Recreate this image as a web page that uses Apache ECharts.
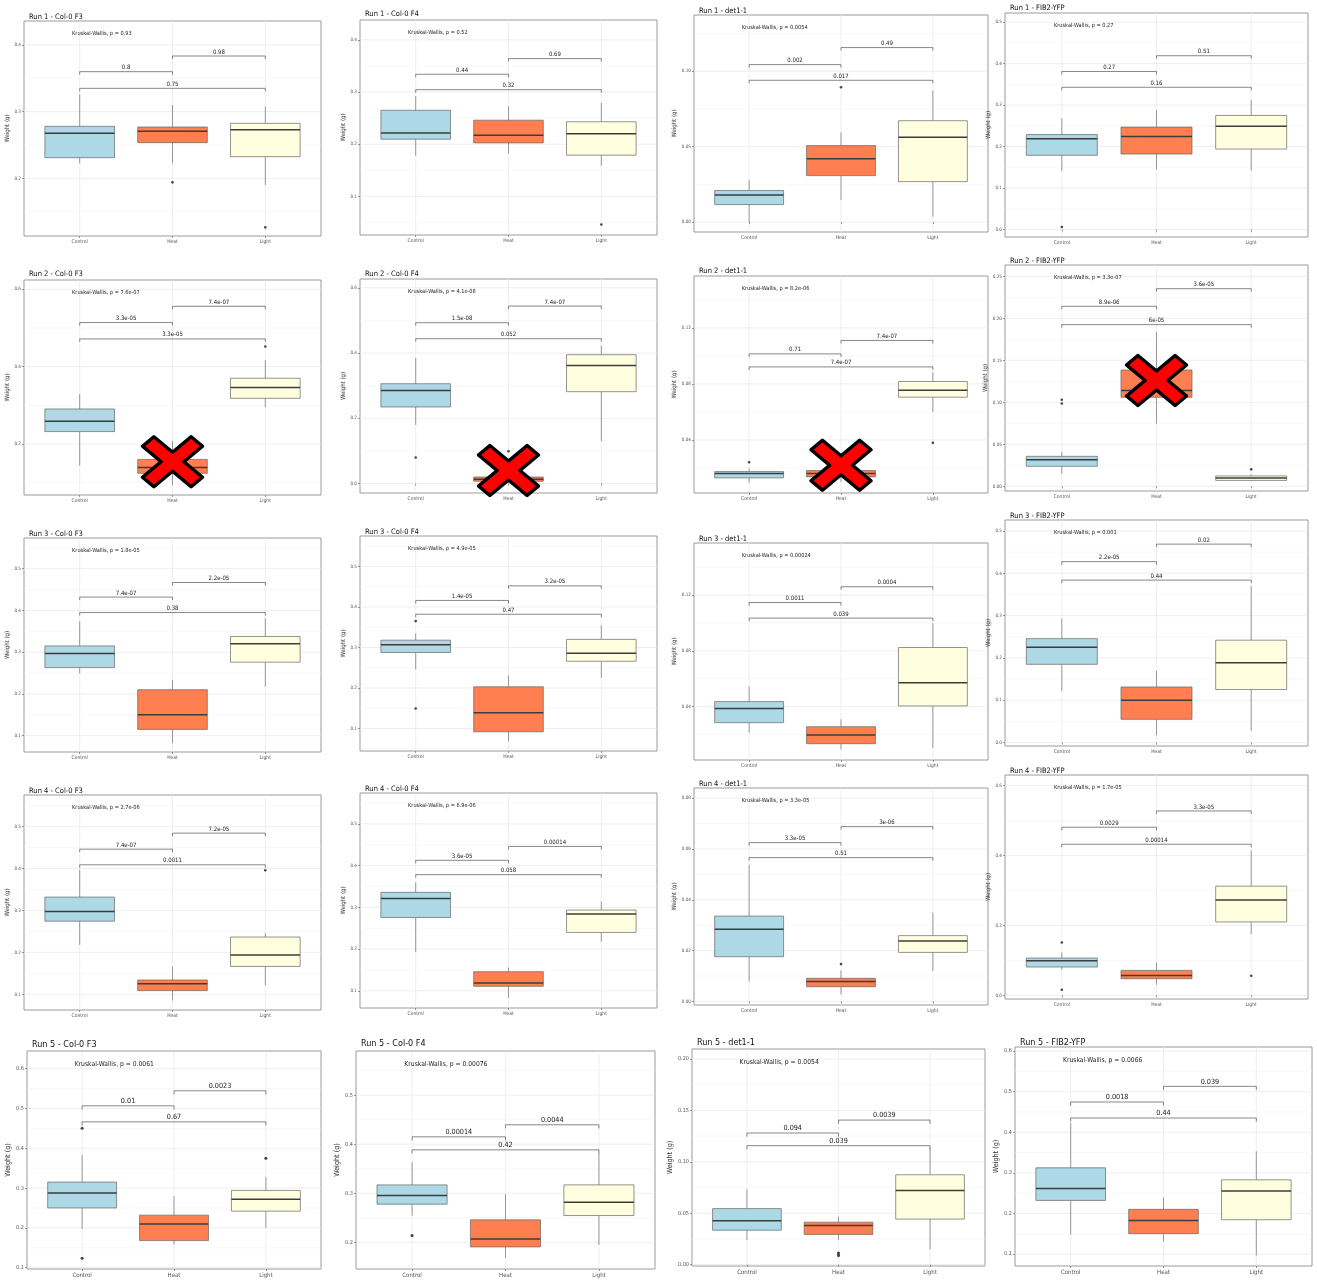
<!DOCTYPE html>
<html><head><meta charset="utf-8">
<script src="https://cdn.jsdelivr.net/npm/echarts@6/dist/echarts.min.js"></script>
<style>html,body{margin:0;padding:0;background:#fff}#c{width:1317px;height:1281px}</style>
</head><body><div id="c"></div><script>
const categories = ['Control', 'Heat', 'Light'];
const panelTitles = [
  'Run 1 - Col-0 F3', 'Run 1 - Col-0 F4', 'Run 1 - det1-1', 'Run 1 - FIB2-YFP',
  'Run 2 - Col-0 F3', 'Run 2 - Col-0 F4', 'Run 2 - det1-1', 'Run 2 - FIB2-YFP',
  'Run 3 - Col-0 F3', 'Run 3 - Col-0 F4', 'Run 3 - det1-1', 'Run 3 - FIB2-YFP',
  'Run 4 - Col-0 F3', 'Run 4 - Col-0 F4', 'Run 4 - det1-1', 'Run 4 - FIB2-YFP',
  'Run 5 - Col-0 F3', 'Run 5 - Col-0 F4', 'Run 5 - det1-1', 'Run 5 - FIB2-YFP'
];
const kruskalP = ['0.93', '0.52', '0.0054', '0.27', '7.6e-07', '4.1e-08', '8.2e-06', '3.3e-07',
  '1.8e-05', '4.9e-05', '0.00024', '0.001', '2.7e-06', '6.9e-06', '3.3e-05', '1.7e-05',
  '0.0061', '0.00076', '0.0054', '0.0066'];
const yRanges = [
  [0.1135, 0.436], [0.026, 0.438], [-0.0066, 0.1373], [-0.018, 0.522],
  [0.068, 0.624], [-0.029, 0.627], [0.0021, 0.157], [-0.0056, 0.2635],
  [0.0608, 0.5736], [0.0446, 0.575], [0.0017, 0.1574], [-0.008, 0.526],
  [0.0626, 0.5755], [0.059, 0.574], [-0.0014, 0.084], [-0.0105, 0.6305],
  [0.0966, 0.6445], [0.1455, 0.59], [-0.0013, 0.2097], [0.0704, 0.61]
];
const yTickLabels = [
  ['0.2', '0.3', '0.4'], ['0.1', '0.2', '0.3', '0.4'], ['0.00', '0.05', '0.10'], ['0.0', '0.1', '0.2', '0.3', '0.4', '0.5'],
  ['0.2', '0.4', '0.6'], ['0.0', '0.2', '0.4', '0.6'], ['0.04', '0.08', '0.12'], ['0.00', '0.05', '0.10', '0.15', '0.20', '0.25'],
  ['0.1', '0.2', '0.3', '0.4', '0.5'], ['0.1', '0.2', '0.3', '0.4', '0.5'], ['0.04', '0.08', '0.12'], ['0.0', '0.1', '0.2', '0.3', '0.4', '0.5'],
  ['0.1', '0.2', '0.3', '0.4', '0.5'], ['0.1', '0.2', '0.3', '0.4', '0.5'], ['0.00', '0.02', '0.04', '0.06', '0.08'], ['0.0', '0.2', '0.4', '0.6'],
  ['0.1', '0.2', '0.3', '0.4', '0.5', '0.6'], ['0.2', '0.3', '0.4', '0.5'], ['0.00', '0.05', '0.10', '0.15', '0.20'], ['0.1', '0.2', '0.3', '0.4', '0.5', '0.6']
];
// [lower whisker, Q1, median, Q3, upper whisker]
const boxControl = [
  [0.2225, 0.231, 0.2675, 0.278, 0.326], [0.178, 0.2096, 0.2217, 0.265, 0.292], [0.0, 0.0116, 0.018, 0.0209, 0.0279], [0.141, 0.179, 0.219, 0.229, 0.268],
  [0.144, 0.232, 0.2586, 0.2905, 0.329], [0.18, 0.2347, 0.285, 0.306, 0.384], [0.0095, 0.0129, 0.016, 0.0174, 0.0195], [0.015, 0.0238, 0.0317, 0.0357, 0.041],
  [0.249, 0.263, 0.297, 0.315, 0.374], [0.246, 0.2876, 0.307, 0.318, 0.3346], [0.0213, 0.0285, 0.0386, 0.0436, 0.0544], [0.122, 0.185, 0.2252, 0.2457, 0.293],
  [0.218, 0.2745, 0.2976, 0.332, 0.397], [0.193, 0.2758, 0.321, 0.336, 0.36], [0.0078, 0.0176, 0.0284, 0.0336, 0.0538], [0.0733, 0.081, 0.099, 0.1067, 0.123],
  [0.1975, 0.25, 0.2874, 0.315, 0.383], [0.2545, 0.2777, 0.2952, 0.317, 0.3634], [0.024, 0.0335, 0.0426, 0.0545, 0.073], [0.148, 0.232, 0.2614, 0.3123, 0.423]
];
const boxHeat = [
  [0.2225, 0.2535, 0.2705, 0.277, 0.31], [0.182, 0.2025, 0.217, 0.246, 0.273], [0.0147, 0.0308, 0.042, 0.0507, 0.0595], [0.145, 0.182, 0.224, 0.247, 0.288],
  [0.094, 0.124, 0.139, 0.16, 0.208], [0.002, 0.007, 0.013, 0.02, 0.03], [0.01, 0.0136, 0.016, 0.0181, 0.021], [0.0746, 0.106, 0.114, 0.1385, 0.184],
  [0.0816, 0.115, 0.15, 0.21, 0.2336], [0.068, 0.092, 0.139, 0.203, 0.231], [0.0093, 0.0134, 0.0196, 0.0256, 0.0309], [0.0173, 0.055, 0.1, 0.1315, 0.169],
  [0.085, 0.1088, 0.1255, 0.1342, 0.166], [0.083, 0.111, 0.119, 0.146, 0.156], [0.0028, 0.0058, 0.0078, 0.0091, 0.0122], [0.0305, 0.0476, 0.057, 0.0714, 0.095],
  [0.158, 0.168, 0.21, 0.232, 0.28], [0.1686, 0.1905, 0.2068, 0.2457, 0.2986], [0.024, 0.0294, 0.038, 0.0413, 0.0468], [0.131, 0.15, 0.1827, 0.21, 0.2386]
];
const boxLight = [
  [0.19, 0.2325, 0.273, 0.2825, 0.3075], [0.159, 0.179, 0.22, 0.243, 0.279], [0.0036, 0.0268, 0.0562, 0.0672, 0.0871], [0.142, 0.194, 0.249, 0.275, 0.3125],
  [0.295, 0.318, 0.3457, 0.37, 0.417], [0.13, 0.2816, 0.362, 0.395, 0.4225], [0.06, 0.0705, 0.0755, 0.0817, 0.0883], [0.0064, 0.007, 0.01, 0.0123, 0.0143],
  [0.217, 0.276, 0.32, 0.3376, 0.381], [0.225, 0.266, 0.286, 0.32, 0.355], [0.0105, 0.0405, 0.0572, 0.0824, 0.0999], [0.028, 0.1254, 0.189, 0.242, 0.37],
  [0.1215, 0.1666, 0.1936, 0.2366, 0.246], [0.218, 0.24, 0.284, 0.2936, 0.314], [0.012, 0.0193, 0.0238, 0.0259, 0.035], [0.175, 0.21, 0.273, 0.3124, 0.414],
  [0.2, 0.242, 0.272, 0.294, 0.328], [0.1945, 0.2545, 0.2818, 0.317, 0.3818], [0.0149, 0.0443, 0.072, 0.0874, 0.1133], [0.096, 0.1844, 0.255, 0.2827, 0.353]
];
// outliers: [category index, value]
const outliers = [
  [[1, 0.194], [2, 0.1265]], [[2, 0.046]], [[1, 0.0894]], [[0, 0.006]],
  [[2, 0.452]], [[0, 0.08], [1, 0.099]], [[0, 0.024], [2, 0.0379]], [[0, 0.103], [0, 0.0985], [2, 0.0202]],
  [], [[0, 0.365], [0, 0.1495]], [], [],
  [[2, 0.396]], [], [[1, 0.0147]], [[0, 0.151], [0, 0.016], [2, 0.056]],
  [[0, 0.4504], [0, 0.1235], [2, 0.375]], [[0, 0.2136]], [[1, 0.0113], [1, 0.009]], []
];
// bracket heights: [Control-Heat, Heat-Light, Control-Light]
const bracketY = [
  [0.36, 0.3835, 0.335], [0.334, 0.364, 0.3045], [0.1044, 0.1157, 0.094], [0.381, 0.419, 0.343],
  [0.514, 0.556, 0.4716], [0.493, 0.544, 0.444], [0.1014, 0.111, 0.0921], [0.2143, 0.2353, 0.1925],
  [0.432, 0.467, 0.395], [0.416, 0.452, 0.382], [0.1147, 0.126, 0.1035], [0.4276, 0.469, 0.384],
  [0.4463, 0.4845, 0.409], [0.4128, 0.446, 0.3784], [0.0625, 0.0688, 0.0566], [0.481, 0.5276, 0.4324],
  [0.5067, 0.5445, 0.4664], [0.415, 0.4395, 0.3884], [0.128, 0.1406, 0.1157], [0.4745, 0.513, 0.435]
];
const bracketP = [
  ['0.8', '0.98', '0.75'], ['0.44', '0.69', '0.32'], ['0.002', '0.49', '0.017'], ['0.27', '0.51', '0.16'],
  ['3.3e-05', '7.4e-07', '3.3e-05'], ['1.5e-08', '7.4e-07', '0.052'], ['0.71', '7.4e-07', '7.4e-07'], ['8.9e-06', '3.6e-05', '6e-05'],
  ['7.4e-07', '2.2e-05', '0.38'], ['1.4e-05', '3.2e-05', '0.47'], ['0.0011', '0.0004', '0.039'], ['2.2e-05', '0.02', '0.44'],
  ['7.4e-07', '7.2e-05', '0.0011'], ['3.6e-05', '0.00014', '0.058'], ['3.3e-05', '3e-06', '0.51'], ['0.0029', '3.3e-05', '0.00014'],
  ['0.01', '0.0023', '0.67'], ['0.00014', '0.0044', '0.42'], ['0.094', '0.0039', '0.039'], ['0.0018', '0.039', '0.44']
];
// red crosses: [panel index, category index, value at centre]
const crossMarks = [[4, 1, 0.154], [5, 1, 0.04], [6, 1, 0.0219], [7, 1, 0.126]];

// ---- layout (pixels): left, top, right, bottom, title centre y
const panelRects = [
  [24, 21, 321, 236, 13], [360, 20, 657, 235, 10], [694, 15, 988, 232, 7], [1005, 13, 1308, 237, 4],
  [24, 280, 321, 495, 270], [360, 279, 657, 493, 270], [694, 276, 988, 493, 267], [1005, 265, 1308, 491, 257],
  [24, 538, 321, 752, 530], [360, 536, 657, 751, 528], [694, 543, 988, 760, 535], [1005, 520, 1308, 746, 512],
  [24, 795, 321, 1010, 787], [360, 793, 657, 1008, 785], [694, 788, 988, 1005, 780], [1005, 775, 1308, 999, 767],
  [27, 1051, 321, 1269, 1041], [356, 1051, 655, 1269, 1040], [692, 1049, 985, 1266, 1039], [1015, 1047, 1312, 1266, 1039]
];
const FF = "'Liberation Sans Narrow','Arial Narrow','DejaVu Sans Condensed','Liberation Sans',sans-serif";
const boxColors = ['#ADD8E6', '#FF7F50', '#FFFFE0'];

const grids = [], xAxes = [], yAxes = [], series = [], titles = [];
for (let i = 0; i < 20; i++) {
  const [l, t, r, b, tc] = panelRects[i];
  const s = i >= 16 ? 1.2 : 1;
  const ticks = yTickLabels[i].map(Number);
  const [ymin, ymax] = yRanges[i];
  grids.push({ left: l, top: t, width: r - l, height: b - t, show: true, borderColor: '#9a9a9a', borderWidth: 1,
    backgroundColor: '#fff', containLabel: false, outerBoundsMode: 'none' });
  xAxes.push({ type: 'value', gridIndex: i, min: 0.4, max: 3.6,
    axisLine: { show: false }, splitLine: { show: false },
    axisTick: { show: true, customValues: [1, 2, 3], length: 2, lineStyle: { color: '#555', width: 0.6 } },
    axisLabel: { customValues: [1, 2, 3], formatter: v => categories[Math.round(v) - 1] || '', fontSize: 5 * s,
      color: '#555', margin: 3, fontFamily: FF } });
  yAxes.push({ type: 'value', gridIndex: i, min: ymin, max: ymax,
    name: 'Weight (g)', nameLocation: 'middle', nameGap: 13 * s, nameRotate: 90,
    nameTextStyle: { fontSize: 6 * s, color: '#333', fontFamily: FF },
    axisLine: { show: false }, splitLine: { show: false },
    axisTick: { show: true, customValues: ticks, length: 2, lineStyle: { color: '#555', width: 0.6 } },
    axisLabel: { customValues: ticks, fontSize: 4.6 * s, color: '#555', margin: 3, fontFamily: FF,
      formatter: v => { const k = ticks.findIndex(tv => Math.abs(tv - v) < 1e-7); return k >= 0 ? yTickLabels[i][k] : ''; } } });

  titles.push({ text: panelTitles[i], left: l, top: tc - 4.5 * s,
    textStyle: { fontSize: 7.5 * s, fontWeight: 'normal', color: '#111', fontFamily: FF } });
  titles.push({ text: 'Kruskal-Wallis, p = ' + kruskalP[i], left: l + 0.145 * (r - l), top: t + 5,
    textStyle: { fontSize: 5.6 * s, fontWeight: 'normal', color: '#222', fontFamily: FF } });

  // grid lines (major / minor horizontal, vertical at categories)
  const step = ticks.length > 1 ? ticks[1] - ticks[0] : 0.1;
  const gl = [];
  ticks.forEach(v => gl.push([0, v]));
  for (let v = ticks[0] - step / 2; v > ymin; v -= step) gl.push([1, v]);
  for (let v = ticks[0] + step / 2; v < ymax; v += step) gl.push([1, v]);
  [1, 2, 3].forEach(c => gl.push([2, c]));
  series.push({ type: 'custom', xAxisIndex: i, yAxisIndex: i, silent: true, z: 0, data: gl,
    renderItem: (params, api) => {
      const cs = params.coordSys; const kind = api.value(0); const v = api.value(1);
      if (kind === 2) {
        const p = api.coord([v, ymin]);
        return { type: 'line', shape: { x1: p[0], y1: cs.y, x2: p[0], y2: cs.y + cs.height }, style: { stroke: '#e8e8e8', lineWidth: 0.7 } };
      }
      const p = api.coord([2, v]);
      return { type: 'line', shape: { x1: cs.x, y1: p[1], x2: cs.x + cs.width, y2: p[1] },
        style: { stroke: kind === 0 ? '#e6e6e6' : '#f1f1f1', lineWidth: kind === 0 ? 0.7 : 0.5 } };
    } });

  // boxes
  const boxData = [[1].concat(boxControl[i], [0]), [2].concat(boxHeat[i], [1]), [3].concat(boxLight[i], [2])];
  series.push({ type: 'custom', xAxisIndex: i, yAxisIndex: i, silent: true, z: 2, data: boxData,
    renderItem: (params, api) => {
      const x = api.value(0);
      const hw = api.size([0.75, 0])[0] / 2;
      const pMin = api.coord([x, api.value(1)]), pQ1 = api.coord([x, api.value(2)]), pMed = api.coord([x, api.value(3)]),
        pQ3 = api.coord([x, api.value(4)]), pMax = api.coord([x, api.value(5)]);
      const col = boxColors[api.value(6)];
      const ws = { stroke: '#5a5a5a', lineWidth: 0.6 };
      return { type: 'group', children: [
        { type: 'line', shape: { x1: pMin[0], y1: pMin[1], x2: pQ1[0], y2: pQ1[1] }, style: ws },
        { type: 'line', shape: { x1: pQ3[0], y1: pQ3[1], x2: pMax[0], y2: pMax[1] }, style: ws },
        { type: 'rect', shape: { x: pQ3[0] - hw, y: pQ3[1], width: 2 * hw, height: pQ1[1] - pQ3[1] },
          style: { fill: col, stroke: '#666', lineWidth: 0.7 } },
        { type: 'line', shape: { x1: pMed[0] - hw, y1: pMed[1], x2: pMed[0] + hw, y2: pMed[1] }, style: { stroke: '#3c3c3c', lineWidth: 1.5 } }
      ] };
    } });

  // outliers
  series.push({ type: 'scatter', xAxisIndex: i, yAxisIndex: i, silent: true, z: 3, symbolSize: 2.6 * s,
    itemStyle: { color: '#1a1a1a' }, data: outliers[i].map(o => [o[0] + 1, o[1]]) });

  // significance brackets
  const pairs = [[1, 2], [2, 3], [1, 3]];
  series.push({ type: 'custom', xAxisIndex: i, yAxisIndex: i, silent: true, z: 3,
    data: pairs.map((p, k) => [p[0], p[1], bracketY[i][k], k]),
    renderItem: (params, api) => {
      const a = api.coord([api.value(0), api.value(2)]);
      const c = api.coord([api.value(1), api.value(2)]);
      const tip = 3 * s;
      return { type: 'group', children: [
        { type: 'polyline', shape: { points: [[a[0], a[1] + tip], [a[0], a[1]], [c[0], c[1]], [c[0], c[1] + tip]] },
          style: { stroke: '#555', lineWidth: 0.7, fill: null } },
        { type: 'text', x: (a[0] + c[0]) / 2, y: a[1] - 1,
          style: { text: bracketP[i][api.value(3)], fontSize: 6 * s, fontFamily: FF, fill: '#222', align: 'center', verticalAlign: 'bottom' } }
      ] };
    } });

  // red crosses
  const cm = crossMarks.filter(m => m[0] === i).map(m => [m[1] + 1, m[2]]);
  if (cm.length) {
    const d = 0.38;
    const unit = [[-1, -1 + d], [-1 + d, -1], [0, -d], [1 - d, -1], [1, -1 + d], [d, 0], [1, 1 - d], [1 - d, 1], [0, d], [-1 + d, 1], [-1, 1 - d], [-d, 0]];
    series.push({ type: 'custom', xAxisIndex: i, yAxisIndex: i, silent: true, z: 6, data: cm,
      renderItem: (params, api) => {
        const p = api.coord([api.value(0), api.value(1)]);
        const hw = 30, hh = 25;
        return { type: 'polygon', shape: { points: unit.map(u => [p[0] + u[0] * hw, p[1] + u[1] * hh]) },
          style: { fill: '#ff0000', stroke: '#000', lineWidth: 3.5, lineJoin: 'round' } };
      } });
  }
}

const chart = echarts.init(document.getElementById('c'), null, { renderer: 'canvas' });
chart.setOption({ backgroundColor: '#fff', animation: false, title: titles, grid: grids, xAxis: xAxes, yAxis: yAxes, series: series });
</script></body></html>
